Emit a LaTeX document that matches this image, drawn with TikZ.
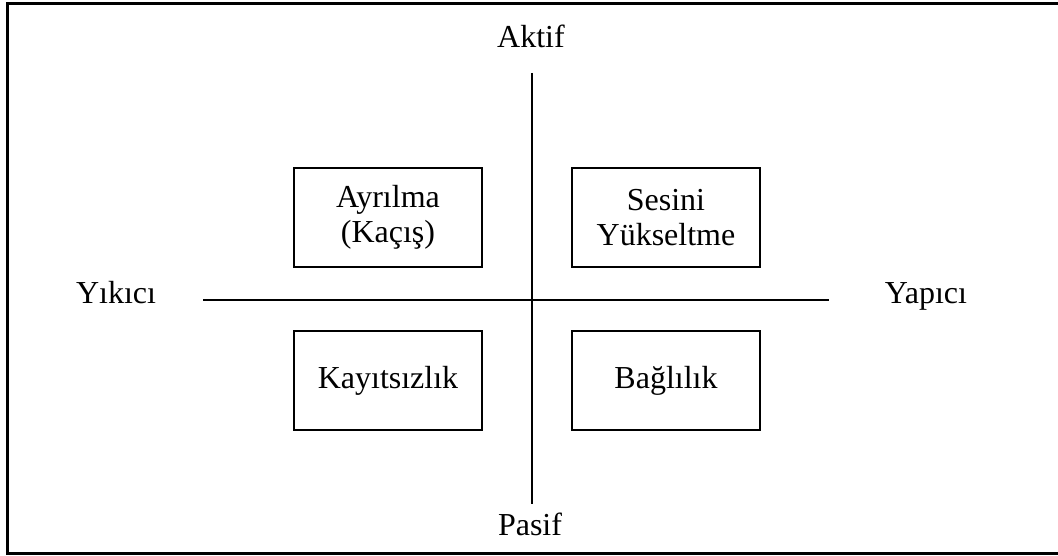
\documentclass[tikz,border=0pt]{standalone}
\usepackage{fontspec}
\setmainfont{Liberation Serif}
\begin{document}
\begin{tikzpicture}[x=1pt,y=-1pt,
  quad/.style={draw,line width=2pt,minimum width=188pt,minimum height=99pt,
    inner sep=0pt,align=center,font=\fontsize{32}{35}\selectfont},
  lbl/.style={inner sep=0pt,font=\fontsize{32}{35}\selectfont},
  axis/.style={line width=2pt}]
\useasboundingbox (0,0) rectangle (1058,556);
% outer frame
\draw[line width=3pt] (7,4) rectangle (1061,553);
% axes
\coordinate (hl) at (203,300);
\coordinate (hr) at (829,300);
\coordinate (vt) at (531.5,73);
\coordinate (vb) at (531.5,504);
\draw[axis] (hl) -- (hr);
\draw[axis] (vt) -- (vb);
% axis labels
\node[lbl,anchor=base] (aktif) at (531,48) {Aktif};
\node[lbl,anchor=base] (pasif) at (530,535) {Pasif};
\node[lbl,anchor=base] (yikici) at (116,304) {Yıkıcı};
\node[lbl,anchor=base] (yapici) at (926,304) {Yapıcı};
% quadrant boxes
\node[quad] (ayrilma) at (388,217.5) {Ayrılma\\(Kaçış)};
\node[quad] (sesini) at (666,217.5) {Sesini\\Yükseltme};
\node[quad] (kayitsiz) at (388,380.5) {Kayıtsızlık};
\node[quad] (baglilik) at (666,380.5) {Bağlılık};
\end{tikzpicture}
\end{document}
